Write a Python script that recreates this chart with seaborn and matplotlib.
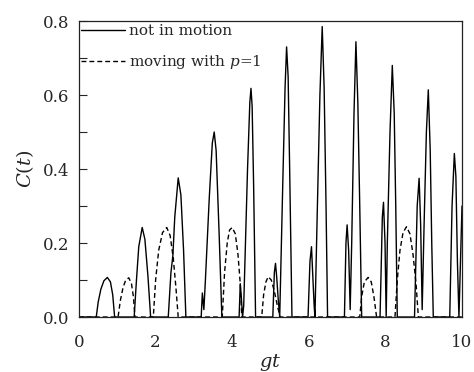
import numpy as np
import pandas as pd
import seaborn as sns
from matplotlib import pyplot as plt
from matplotlib.ticker import MultipleLocator

# values, hump by hump
t_still = [0.0, 0.45, 0.50, 0.57, 0.65, 0.74, 0.82, 0.88, 0.93,
           1.44, 1.50, 1.56, 1.65, 1.72, 1.80, 1.87,
           2.33, 2.40, 2.45, 2.50, 2.59, 2.66, 2.73, 2.79,
           3.19, 3.22, 3.26, 3.30, 3.40, 3.48, 3.53, 3.58, 3.66, 3.73,
           4.18, 4.21, 4.24, 4.27, 4.30, 4.40, 4.46, 4.49, 4.52, 4.56, 4.61,
           5.06, 5.10, 5.13, 5.16, 5.20, 5.24, 5.32, 5.38, 5.42, 5.46, 5.50, 5.56,
           5.98, 6.03, 6.07, 6.10, 6.14, 6.16, 6.22, 6.29, 6.35, 6.40, 6.45, 6.49,
           6.93, 6.97, 7.00, 7.04, 7.08, 7.12, 7.18, 7.23, 7.28, 7.33, 7.38,
           7.86, 7.92, 7.95, 7.99, 8.02, 8.05, 8.12, 8.18, 8.23, 8.27, 8.31,
           8.76, 8.83, 8.88, 8.92, 8.96, 9.01, 9.07, 9.12, 9.17, 9.21, 9.25,
           9.68, 9.74, 9.80, 9.84, 9.88, 9.92, 9.96, 10.0]
c_still = [0.0, 0.0, 0.040, 0.075, 0.098, 0.107, 0.095, 0.060, 0.0,
           0.0, 0.10, 0.19, 0.242, 0.21, 0.11, 0.0,
           0.0, 0.12, 0.165, 0.27, 0.376, 0.33, 0.18, 0.0,
           0.0, 0.065, 0.02, 0.10, 0.32, 0.47, 0.50, 0.45, 0.22, 0.0,
           0.0, 0.09, 0.05, 0.0, 0.03, 0.40, 0.58, 0.618, 0.57, 0.35, 0.0,
           0.0, 0.12, 0.145, 0.11, 0.05, 0.0, 0.36, 0.62, 0.73, 0.65, 0.40, 0.0,
           0.0, 0.15, 0.19, 0.12, 0.03, 0.0, 0.28, 0.60, 0.785, 0.62, 0.30, 0.0,
           0.0, 0.20, 0.249, 0.18, 0.02, 0.20, 0.55, 0.744, 0.58, 0.30, 0.0,
           0.0, 0.27, 0.31, 0.20, 0.0, 0.20, 0.50, 0.68, 0.55, 0.30, 0.0,
           0.0, 0.30, 0.375, 0.25, 0.02, 0.25, 0.50, 0.614, 0.45, 0.20, 0.0,
           0.0, 0.30, 0.442, 0.38, 0.15, 0.0, 0.15, 0.30]

t_moving = [0.0, 1.02, 1.08, 1.15, 1.22, 1.30, 1.37, 1.42, 1.46,
            1.94, 2.00, 2.08, 2.18, 2.29, 2.38, 2.46, 2.53, 2.59,
            3.74, 3.80, 3.87, 3.93, 4.00, 4.08, 4.15, 4.21, 4.25,
            4.77, 4.82, 4.88, 4.94, 5.02, 5.10, 5.17, 5.25,
            7.33, 7.38, 7.45, 7.55, 7.63, 7.70, 7.77,
            8.25, 8.31, 8.38, 8.46, 8.55, 8.64, 8.72, 8.80, 8.86, 10.0]
c_moving = [0.0, 0.0, 0.045, 0.080, 0.100, 0.106, 0.090, 0.055, 0.0,
            0.0, 0.10, 0.18, 0.228, 0.242, 0.22, 0.16, 0.08, 0.0,
            0.0, 0.12, 0.20, 0.235, 0.242, 0.225, 0.17, 0.09, 0.0,
            0.0, 0.060, 0.095, 0.109, 0.100, 0.070, 0.035, 0.0,
            0.0, 0.055, 0.095, 0.107, 0.095, 0.055, 0.0,
            0.0, 0.10, 0.18, 0.228, 0.244, 0.225, 0.17, 0.09, 0.0, 0.0]

labels = ["not in motion", "moving with $p$=1"]

df = pd.concat([
    pd.DataFrame({"gt": t_still, "C": c_still, "case": labels[0]}),
    pd.DataFrame({"gt": t_moving, "C": c_moving, "case": labels[1]}),
])

sns.set_style("ticks")
plt.rcParams["font.family"] = ["DejaVu Serif"]
plt.rcParams["mathtext.fontset"] = "dejavuserif"

fig = plt.figure(figsize=(4.74, 3.72), dpi=100)
ax = fig.add_axes([0.1667, 0.1478, 0.808, 0.7957])

sns.lineplot(
    data=df, x="gt", y="C", style="case", style_order=labels,
    dashes={labels[0]: "", labels[1]: (3.5, 2.2)},
    color="black", linewidth=1.0, sort=False, estimator=None, ax=ax,
)

ax.set_xlim(0, 10)
ax.set_ylim(0, 0.8)
ax.xaxis.set_major_locator(MultipleLocator(2))
ax.yaxis.set_major_locator(MultipleLocator(0.2))
ax.yaxis.set_minor_locator(MultipleLocator(0.1))
ax.yaxis.set_major_formatter(plt.FormatStrFormatter("%.1f"))
ax.tick_params(axis="y", which="both", direction="in", length=6, width=0.8,
               labelsize=12, pad=7)
ax.tick_params(axis="x", which="both", length=0, labelsize=12, pad=12)
for s in ax.spines.values():
    s.set_visible(True)
    s.set_linewidth(0.9)
    s.set_color("#222222")

ax.set_xlabel("$gt$", fontsize=14, labelpad=1)
ax.set_ylabel("$C(t)$", fontsize=14, labelpad=5)

ax.legend(loc="upper left", bbox_to_anchor=(0.005, 0.99), frameon=False,
          fontsize=11, handlelength=2.9, handletextpad=0.25,
          labelspacing=1.0, borderpad=0, borderaxespad=0)

plt.savefig("out.png", dpi=100)
